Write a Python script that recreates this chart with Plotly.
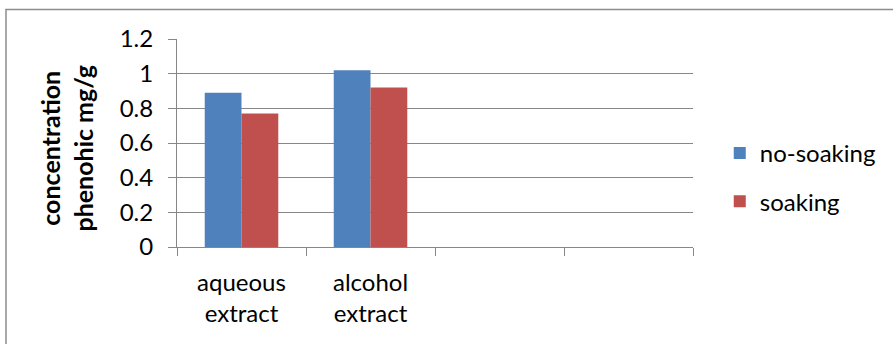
import plotly.graph_objects as go

# Category slots on the x axis (the last two are left empty)
categories = ["aqueous<br>extract", "alcohol<br>extract", " ", "  "]

# Phenolic concentration, mg/g (no measurement in the empty slots)
no_soaking = [0.89, 1.02, None, None]
soaking = [0.77, 0.92, None, None]

series_names = ["no-soaking", "soaking"]
series_colors = ["#4F81BD", "#C0504D"]

FONT = "Lato"
FSIZE = 24
GRID = "#878787"

fig = go.Figure()
for name, vals, color in zip(series_names, [no_soaking, soaking], series_colors):
    fig.add_trace(go.Bar(
        x=categories, y=vals, name=name, legendgroup=name,
        marker=dict(color=color, line=dict(width=0)),
    ))

fig.update_layout(
    width=893, height=344,
    margin=dict(l=177, r=200, t=39, b=97),
    paper_bgcolor="white", plot_bgcolor="white",
    barmode="group", bargap=0.43, bargroupgap=0,
    font=dict(family=FONT, size=FSIZE, color="black"),
    showlegend=True,
    legend=dict(
        xref="container", yref="container",
        x=0.806, xanchor="left", y=0.484, yanchor="middle",
        traceorder="grouped", tracegroupgap=14,
        font=dict(family=FONT, size=FSIZE, color="black"),
        bgcolor="rgba(0,0,0,0)", borderwidth=0,
    ),
    xaxis=dict(
        type="category", categoryorder="array", categoryarray=categories,
        range=[-0.5, 3.5], tickson="boundaries",
        ticks="outside", ticklen=8, tickcolor=GRID, tickwidth=1,
        showline=True, linecolor=GRID, linewidth=1,
        showgrid=False, tickfont=dict(family=FONT, size=FSIZE),
        ticklabelstandoff=14,
    ),
    yaxis=dict(
        range=[0, 1.2], dtick=0.2, tick0=0,
        ticks="outside", ticklen=8, tickcolor=GRID, tickwidth=1,
        showline=True, linecolor=GRID, linewidth=1,
        showgrid=True, gridcolor=GRID, gridwidth=1,
        zeroline=False, tickfont=dict(family=FONT, size=FSIZE),
        ticklabelstandoff=10,
    ),
)

# Two-line axis title, drawn rotated at the left of the tick labels
fig.add_annotation(
    text="<b>concentration<br>phenohic mg/g</b>",
    xref="paper", yref="paper", x=-0.2132, y=0.478,
    xanchor="center", yanchor="middle", textangle=-90,
    showarrow=False, font=dict(family=FONT, size=25, color="black"),
)

# Chart-area border
fig.add_shape(
    type="rect", xref="paper", yref="paper",
    x0=-0.3314, x1=1.5, y0=-0.6, y1=1.1418,
    line=dict(color="#8C8C8C", width=1.5), fillcolor="rgba(0,0,0,0)",
    layer="below",
)

fig.write_html("out.html")
